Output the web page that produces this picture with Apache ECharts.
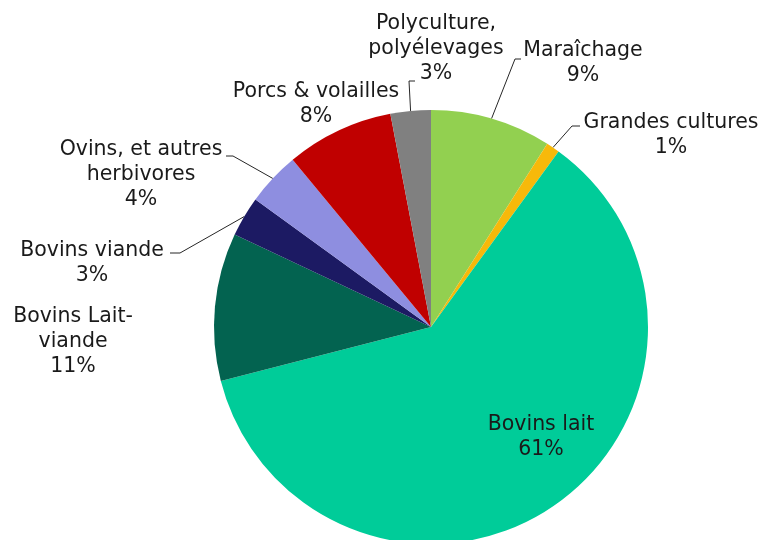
<!DOCTYPE html>
<html>
<head>
<meta charset="utf-8">
<script src="https://cdn.jsdelivr.net/npm/echarts@6/dist/echarts.min.js"></script>
<style>html,body{margin:0;padding:0;background:#fff;}#c{width:764px;height:540px;}</style>
</head>
<body>
<div id="c"></div>
<script>
var categories = ['Maraîchage', 'Grandes cultures', 'Bovins lait', 'Bovins Lait-\nviande', 'Bovins viande', 'Ovins, et autres\nherbivores', 'Porcs & volailles', 'Polyculture,\npolyélevages'];
var values = [9, 1, 61, 11, 3, 4, 8, 3];
var colors = ['#92D050', '#F7B90A', '#00CC99', '#036350', '#1C1A63', '#8E8EE0', '#C00000', '#808080'];

// label placement (centre of text block) and leader-line elbow / end points
var labelPos = [[583, 63], [671, 135], [541, 437], [73, 342], [92, 263], [141, 175], [316, 104], [436, 49]];
var lineElbow = [[515, 59], [572, 126], null, null, [180, 253], [233, 156], null, [409, 81]];
var lineEnd = [[521, 59], [580, 126], null, null, [170, 253], [226, 156], null, [415, 81]];

var chart = echarts.init(document.getElementById('c'), null, {renderer: 'canvas'});
var data = categories.map(function (c, i) {
  return {
    name: c,
    value: values[i],
    itemStyle: {color: colors[i]},
    labelLine: {show: !!lineElbow[i]}
  };
});
chart.setOption({
  animation: false,
  series: [{
    type: 'pie',
    center: [431, 327],
    radius: 217,
    startAngle: 90,
    clockwise: true,
    data: data,
    itemStyle: {borderWidth: 0},
    label: {
      show: true,
      position: 'outside',
      formatter: '{b}\n{d}%',
      fontFamily: 'DejaVu Sans, Verdana, sans-serif',
      fontSize: 20.5,
      lineHeight: 25,
      color: '#1a1a1a',
      align: 'center',
      overflow: 'none',
      width: 220
    },
    labelLine: {
      show: true,
      lineStyle: {color: '#262626', width: 1}
    },
    labelLayout: function (params) {
      var i = params.dataIndex;
      var res = {
        x: labelPos[i][0],
        y: labelPos[i][1],
        align: 'center',
        verticalAlign: 'middle'
      };
      if (lineElbow[i] && params.labelLinePoints) {
        res.labelLinePoints = [params.labelLinePoints[0], lineElbow[i], lineEnd[i]];
      }
      return res;
    }
  }]
});
</script>
</body>
</html>
